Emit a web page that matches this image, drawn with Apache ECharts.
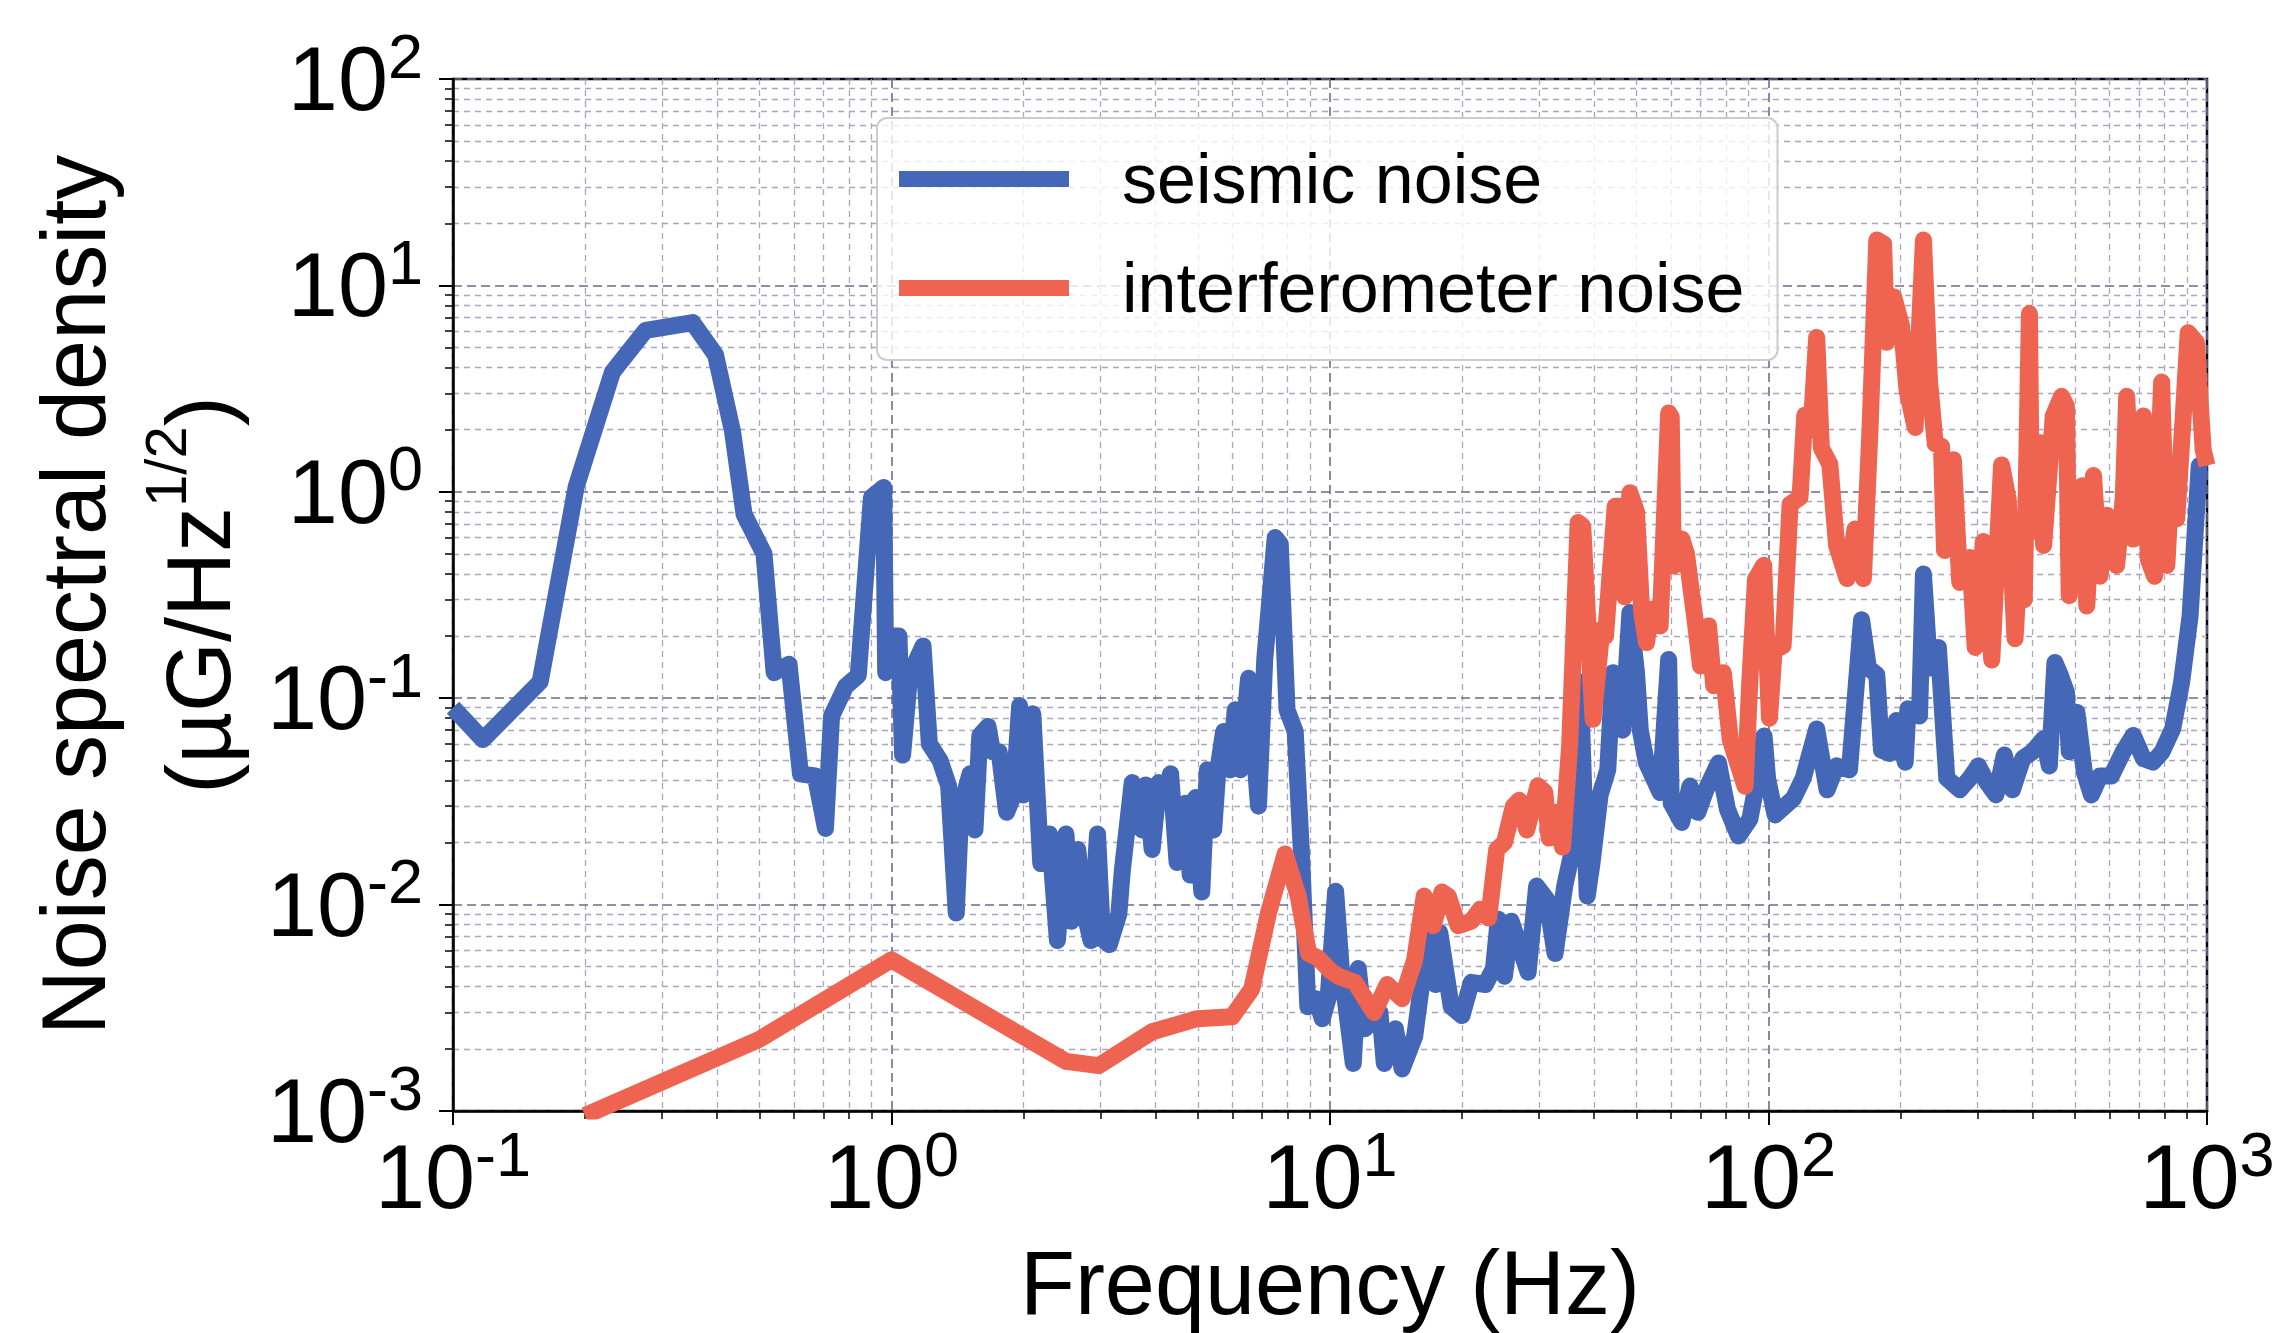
<!DOCTYPE html>
<html>
<head>
<meta charset="utf-8">
<script src="https://cdn.jsdelivr.net/npm/echarts@6/dist/echarts.min.js"></script>
<style>
html,body{margin:0;padding:0;background:#fff;}
#chart{width:2281px;height:1333px;}
</style>
</head>
<body>
<div id="chart"></div>
<script>
const seismicFreq = [0.1,0.117,0.158,0.191,0.231,0.275,0.352,0.397,0.434,0.461,0.512,0.54,0.584,0.62,0.67,0.707,0.73,0.786,0.84,0.9,0.96,0.97,1.0,1.04,1.06,1.1,1.18,1.22,1.29,1.35,1.405,1.44,1.51,1.55,1.59,1.66,1.70,1.76,1.83,1.9,1.96,2.0,2.1,2.15,2.19,2.29,2.39,2.5,2.57,2.66,2.73,2.85,2.95,3.03,3.14,3.3,3.36,3.54,3.73,3.8,3.93,4.07,4.2,4.33,4.48,4.68,4.8,4.94,5.1,5.25,5.43,5.55,5.72,5.92,6.08,6.25,6.52,6.7,6.87,7.1,7.5,7.7,7.98,8.33,8.6,8.9,9.3,9.6,9.9,10.3,10.6,11.3,11.6,12.0,13.0,13.3,14.1,14.6,15.6,16.2,16.8,17.4,17.8,18.9,20,21,22.6,23.6,24.2,25,25.9,28.3,29.6,31.2,32.6,34.3,35.9,37.2,38.6,39.6,41.3,43,44.2,46.5,48.3,50,51,52.7,56.6,59.2,60,63.4,66.2,69,72,76.9,80.6,85.4,90.7,95,97.7,99.5,103.5,114,120,128.8,136,143,153,157.5,163,169,176.6,181,189,196,205,208,221,225.6,233,244,255,273,288,301,315,330,345,360,380,400,424,437,450,463,478,485,505,525,545,570,605,644,679,716,753,790,835,875,915,940,960,1000];
const seismicValue = [0.09,0.063,0.12,1.06,3.8,6.06,6.6,4.6,1.96,0.78,0.50,0.133,0.146,0.043,0.042,0.0234,0.082,0.114,0.129,0.94,1.05,0.133,0.2,0.2,0.053,0.129,0.179,0.06,0.05,0.0376,0.0091,0.0296,0.043,0.023,0.066,0.073,0.055,0.055,0.028,0.034,0.092,0.034,0.084,0.033,0.0158,0.022,0.0067,0.022,0.0083,0.0185,0.01,0.0067,0.022,0.0068,0.0064,0.009,0.0146,0.039,0.023,0.038,0.0185,0.039,0.034,0.043,0.016,0.031,0.0139,0.033,0.0115,0.045,0.023,0.045,0.069,0.045,0.088,0.045,0.125,0.06,0.03,0.155,0.6,0.56,0.088,0.069,0.0185,0.0032,0.0035,0.0028,0.0035,0.0116,0.005,0.0017,0.0049,0.0025,0.003,0.0017,0.0025,0.0016,0.0023,0.0042,0.0073,0.0041,0.0073,0.0032,0.0029,0.0042,0.0041,0.0049,0.0085,0.0045,0.0083,0.0047,0.0123,0.0106,0.0058,0.0123,0.0192,0.12,0.011,0.016,0.034,0.045,0.133,0.07,0.26,0.133,0.07,0.0485,0.0349,0.154,0.031,0.025,0.0375,0.028,0.036,0.0485,0.029,0.0215,0.026,0.0437,0.0656,0.041,0.0272,0.0327,0.041,0.071,0.036,0.047,0.045,0.097,0.24,0.14,0.13,0.056,0.054,0.078,0.049,0.089,0.082,0.4,0.14,0.176,0.041,0.036,0.041,0.047,0.039,0.034,0.053,0.036,0.051,0.055,0.0636,0.047,0.149,0.129,0.107,0.055,0.0855,0.044,0.034,0.042,0.042,0.055,0.066,0.051,0.049,0.055,0.071,0.119,0.25,0.64,1.34,1.34];

const interfFreq = [0.2,0.499,1.0,2.5,2.97,3.93,4.98,5.98,6.63,7.24,7.9,8.46,8.94,9.4,10.0,10.45,11.4,12.6,13.5,14.6,15.6,16.4,17.2,18,18.6,19.6,21,22,23,24,25,26.2,27,28.1,29.8,30.9,31.6,32.9,33.9,35.2,36.8,37.7,39.8,41.7,42.5,44.7,46.5,47,48.3,50,51.4,52.7,54,56.6,59.2,60,60.7,63.4,65,68,70,73,75,78.9,81.8,86,88.4,90.7,93.4,97.5,100.5,103,108,112,118,121,125,128.8,132,138,143,151,157.5,164.6,170.4,176.6,183,186,193,201,207,216,219.8,225.6,233,240,248,252,264,273,288,296,309,323,340,352,365,377,383,393.6,398,416,424,433,446,466,478,485,505,520,532,551,570,591,622,644,656,679,716,735,759,788,810,831,853,883,906,946,980,1000];
const interfValue = [0.00095,0.00222,0.0054,0.00174,0.00166,0.00242,0.0028,0.00286,0.0039,0.0091,0.0176,0.011,0.0058,0.0055,0.0048,0.0045,0.0042,0.003,0.0041,0.0035,0.0054,0.011,0.0079,0.0115,0.011,0.0079,0.0083,0.0095,0.0086,0.0185,0.02,0.030,0.032,0.023,0.0376,0.035,0.021,0.028,0.019,0.059,0.71,0.68,0.079,0.216,0.2,0.85,0.85,0.31,0.99,0.8,0.26,0.186,0.27,0.224,2.41,2.3,0.437,0.59,0.5,0.24,0.143,0.224,0.115,0.133,0.063,0.045,0.0375,0.123,0.376,0.44,0.08,0.17,0.18,0.87,0.94,2.35,2.0,5.6,1.63,1.36,0.55,0.38,0.66,0.38,2.0,16.6,15.9,5.3,8.8,6.4,3.1,2.05,4.9,16.6,3.4,1.71,1.66,0.52,1.43,0.364,0.48,0.176,0.575,0.153,1.35,0.92,0.194,0.64,0.3,7.3,0.64,1.73,0.55,1.0,2.33,2.9,2.6,0.314,1.03,1.07,0.28,1.2,0.39,0.77,0.44,0.92,2.9,0.59,2.33,0.47,0.39,3.4,0.44,1.24,0.74,2.33,5.9,5.3,1.6,1.34];

const seriesNames = ['seismic noise', 'interferometer noise'];
const majorX = [0.1, 1, 10, 100, 1000];
const minorX = [0.2,0.3,0.4,0.5,0.6,0.7,0.8,0.9,2,3,4,5,6,7,8,9,20,30,40,50,60,70,80,90,200,300,400,500,600,700,800,900];
const majorY = [0.001, 0.01, 0.1, 1, 10, 100];
const minorY = [0.002,0.003,0.004,0.005,0.006,0.007,0.008,0.009,0.02,0.03,0.04,0.05,0.06,0.07,0.08,0.09,0.2,0.3,0.4,0.5,0.6,0.7,0.8,0.9,2,3,4,5,6,7,8,9,20,30,40,50,60,70,80,90];

const FONT = '"Liberation Sans", Arial, sans-serif';
const BLUE = '#4467b7';
const RED = '#ef6451';

function zip(xs, ys) { return xs.map((x, i) => [x, ys[i]]); }
function powLabel(v) {
  const e = Math.round(Math.log10(v));
  return '{b|10}{s|' + e + '}';
}
const tickRich = {
  b: { fontSize: 90, lineHeight: 110, verticalAlign: 'middle', fontFamily: FONT, color: '#000' },
  s: { fontSize: 63, lineHeight: 62, verticalAlign: 'top', fontFamily: FONT, color: '#000' }
};
const majorGrid = { show: true, lineStyle: { color: '#6f6a8e', width: 1.6, type: [9, 5] } };
const minorGrid = { show: true, lineStyle: { color: '#aaa5c0', width: 1.3, type: [6, 5] } };

const chart = echarts.init(document.getElementById('chart'), null, { renderer: 'svg' });
chart.setOption({
  animation: false,
  backgroundColor: '#fff',
  color: [BLUE, RED],
  grid: { left: 453, top: 79, width: 1754, height: 1033, show: true, borderColor: '#000', borderWidth: 2.5, backgroundColor: 'transparent', containLabel: false },
  legend: {
    left: 877, top: 118, orient: 'vertical', icon: 'rect',
    itemWidth: 170, itemHeight: 16, itemGap: 29,
    padding: [21, 33, 32, 22],
    backgroundColor: 'rgba(255,255,255,0.8)', borderColor: '#cccccc', borderWidth: 2, borderRadius: 10,
    textStyle: { fontSize: 70, lineHeight: 80, color: '#000', fontFamily: FONT, padding: [0, 0, 0, 48] },
    data: seriesNames
  },
  xAxis: [
    {
      type: 'log', logBase: 10, min: 0.1, max: 1000, position: 'bottom', z: 1,
      name: 'Frequency (Hz)', nameLocation: 'middle', nameGap: 127,
      nameTextStyle: { fontSize: 90, lineHeight: 90, color: '#000', fontFamily: FONT },
      axisLine: { show: true, onZero: false, lineStyle: { color: '#000', width: 2.5 } },
      axisTick: { show: true, customValues: majorX, length: 14, lineStyle: { color: '#000', width: 2 } },
      axisLabel: { show: true, customValues: majorX, margin: 11, formatter: powLabel, rich: tickRich },
      splitLine: majorGrid, minorTick: { show: false }, minorSplitLine: { show: false }
    },
    {
      type: 'log', logBase: 10, min: 0.1, max: 1000, position: 'bottom', z: 0,
      axisLine: { show: false },
      axisTick: { show: true, customValues: minorX, length: 8, lineStyle: { color: '#000', width: 1.5 } },
      axisLabel: { show: false },
      splitLine: minorGrid, minorTick: { show: false }
    }
  ],
  yAxis: [
    {
      type: 'log', logBase: 10, min: 0.001, max: 100, position: 'left', z: 1,
      name: '{t|Noise spectral density}\n{t|(µG/Hz}{s|1/2}{t|)}', nameLocation: 'middle', nameRotate: 90, nameGap: 192,
      nameTextStyle: { rich: {
        t: { fontSize: 90, lineHeight: 125, color: '#000', fontFamily: FONT },
        s: { fontSize: 58, lineHeight: 56, verticalAlign: 'top', color: '#000', fontFamily: FONT }
      } },
      axisLine: { show: true, onZero: false, lineStyle: { color: '#000', width: 2.5 } },
      axisTick: { show: true, customValues: majorY, length: 14, lineStyle: { color: '#000', width: 2 } },
      axisLabel: { show: true, customValues: majorY, margin: 30, formatter: powLabel, rich: tickRich },
      splitLine: majorGrid, minorTick: { show: false }, minorSplitLine: { show: false }
    },
    {
      type: 'log', logBase: 10, min: 0.001, max: 100, position: 'left', z: 0,
      axisLine: { show: false },
      axisTick: { show: true, customValues: minorY, length: 8, lineStyle: { color: '#000', width: 1.5 } },
      axisLabel: { show: false },
      splitLine: minorGrid, minorTick: { show: false }
    }
  ],
  series: [
    {
      name: seriesNames[0], type: 'line', xAxisIndex: 0, yAxisIndex: 0,
      data: zip(seismicFreq, seismicValue), showSymbol: false, symbol: 'none', clip: true,
      itemStyle: { color: BLUE },
      lineStyle: { width: 17, color: BLUE, join: 'round', cap: 'butt' }, z: 3
    },
    {
      name: seriesNames[1], type: 'line', xAxisIndex: 0, yAxisIndex: 0,
      data: zip(interfFreq, interfValue), showSymbol: false, symbol: 'none', clip: true,
      itemStyle: { color: RED },
      lineStyle: { width: 17, color: RED, join: 'round', cap: 'butt' }, z: 4
    }
  ]
});
</script>
</body>
</html>
